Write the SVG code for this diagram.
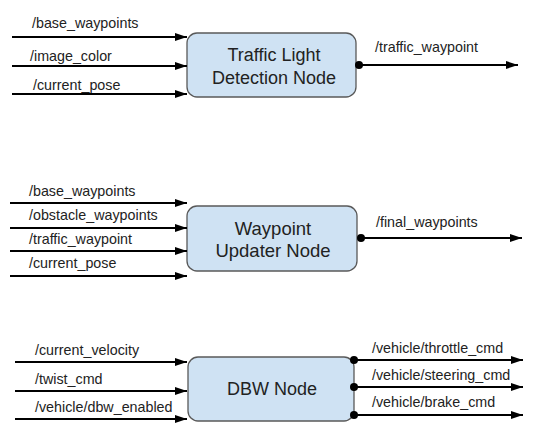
<svg xmlns="http://www.w3.org/2000/svg" width="539" height="438" viewBox="0 0 539 438">
<style>
.node rect{fill:#cfe2f3;stroke:#595959;stroke-width:1.3}
.node text{font-family:"Liberation Sans",Arial,sans-serif;font-size:18px;fill:#222;text-anchor:middle}
.lbl{font-family:"Liberation Sans",Arial,sans-serif;font-size:14.3px;fill:#222}
.edge line{stroke:#000;stroke-width:2}
</style>
<defs>
<marker id="arr" viewBox="0 0 12 8" refX="12" refY="4" markerWidth="12" markerHeight="8" markerUnits="userSpaceOnUse" orient="auto">
<path d="M0,0 L12,4 L0,8 Z" fill="#000"/>
</marker>
<marker id="dot" viewBox="0 0 8 8" refX="4" refY="4" markerWidth="8" markerHeight="8" markerUnits="userSpaceOnUse">
<circle cx="4" cy="4" r="4" fill="#000"/>
</marker>
</defs>
<g id="tl-node" class="node">
<rect x="187" y="33" width="169" height="64" rx="10"/>
<text x="274" y="61">Traffic Light</text>
<text x="274" y="84">Detection Node</text>
</g>
<g id="wp-node" class="node">
<rect x="187" y="206" width="170" height="65" rx="10"/>
<text x="273" y="235" style="font-size:18.5px">Waypoint</text>
<text x="273" y="257" style="font-size:18.5px">Updater Node</text>
</g>
<g id="dbw-node" class="node">
<rect x="188" y="357" width="166" height="64" rx="10"/>
<text x="272" y="395">DBW Node</text>
</g>
<g id="connectors" class="edge">
<line x1="12" y1="37" x2="187" y2="37" marker-end="url(#arr)"/>
<line x1="12" y1="66" x2="187" y2="66" marker-end="url(#arr)"/>
<line x1="12" y1="94" x2="187" y2="94" marker-end="url(#arr)"/>
<line x1="359" y1="65" x2="518" y2="65" marker-start="url(#dot)" marker-end="url(#arr)"/>
<line x1="10" y1="203" x2="187" y2="203" marker-end="url(#arr)"/>
<line x1="10" y1="228" x2="187" y2="228" marker-end="url(#arr)"/>
<line x1="10" y1="251" x2="187" y2="251" marker-end="url(#arr)"/>
<line x1="10" y1="276" x2="187" y2="276" marker-end="url(#arr)"/>
<line x1="361" y1="238" x2="522" y2="238" marker-start="url(#dot)" marker-end="url(#arr)"/>
<line x1="15" y1="362" x2="187" y2="362" marker-end="url(#arr)"/>
<line x1="15" y1="391" x2="187" y2="391" marker-end="url(#arr)"/>
<line x1="15" y1="419" x2="187" y2="419" marker-end="url(#arr)"/>
<line x1="354" y1="360" x2="523" y2="360" marker-start="url(#dot)" marker-end="url(#arr)"/>
<line x1="354" y1="387" x2="523" y2="387" marker-start="url(#dot)" marker-end="url(#arr)"/>
<line x1="354" y1="415" x2="523" y2="415" marker-start="url(#dot)" marker-end="url(#arr)"/>
</g>
<g id="labels" class="lbl">
<text x="32" y="28">/base_waypoints</text>
<text x="30" y="61">/image_color</text>
<text x="33" y="90">/current_pose</text>
<text x="375" y="52">/traffic_waypoint</text>
<text x="29" y="196">/base_waypoints</text>
<text x="29" y="220">/obstacle_waypoints</text>
<text x="29" y="244">/traffic_waypoint</text>
<text x="29" y="268">/current_pose</text>
<text x="376" y="227">/final_waypoints</text>
<text x="35" y="355">/current_velocity</text>
<text x="35" y="384">/twist_cmd</text>
<text x="35" y="412">/vehicle/dbw_enabled</text>
<text x="372" y="353">/vehicle/throttle_cmd</text>
<text x="372" y="380">/vehicle/steering_cmd</text>
<text x="372" y="407">/vehicle/brake_cmd</text>
</g>
</svg>
